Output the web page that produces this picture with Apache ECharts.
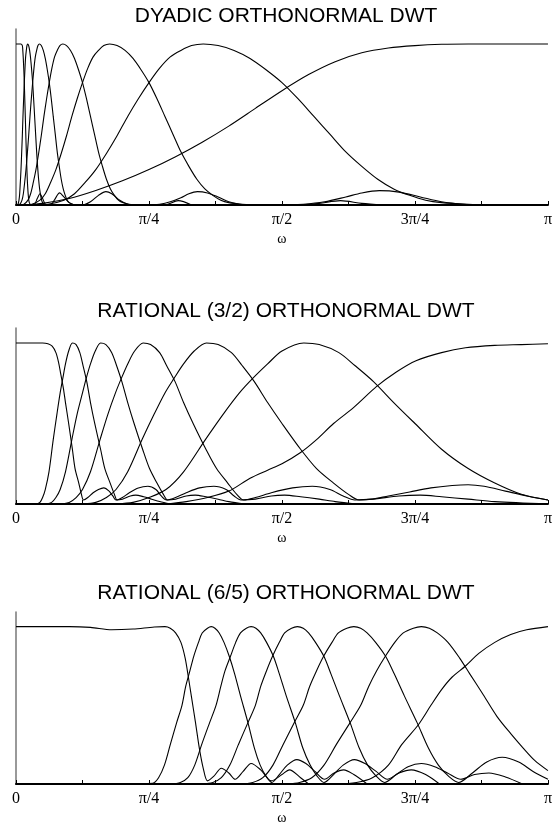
<!DOCTYPE html>
<html>
<head>
<meta charset="utf-8">
<script src="https://cdn.jsdelivr.net/npm/echarts@6/dist/echarts.min.js"></script>
<style>
  html, body { margin: 0; padding: 0; background: #fff; }
  #chart { width: 555px; height: 826px; }
</style>
</head>
<body>
<div id="chart"></div>
<script>
// frequency in units of pi, magnitude response
var tickLabels = ['0', '', 'π/4', '', 'π/2', '', '3π/4', '', 'π'];
var titles = ['DYADIC ORTHONORMAL DWT', 'RATIONAL (3/2) ORTHONORMAL DWT', 'RATIONAL (6/5) ORTHONORMAL DWT'];

// ---- dyadic ----
var dyLow = [[0,1],[.009,1],[.0119,.99],[.0128,.96],[.0137,.91],[.0147,.84],[.0156,.76],[.0165,.66],[.0175,.55],[.0184,.44],[.0194,.33],[.0203,.24],[.0212,.16],[.0222,.10],[.0231,.06],[.024,.03],[.025,.015],[.0265,.005],[.028,0],[.035,.005],[.04,.04],[.045,.07],[.05,.04],[.055,.005],[.06,0]];
var dyBand1 = [[.002,0],[.0038,.005],[.0056,.03],[.0069,.07],[.0081,.14],[.0094,.22],[.0106,.32],[.0119,.43],[.0131,.55],[.0144,.66],[.0156,.76],[.0169,.85],[.0181,.92],[.0194,.96],[.0206,.99],[.022,1],[.0238,.99],[.0256,.96],[.0275,.91],[.0294,.84],[.0313,.76],[.0331,.66],[.035,.55],[.0369,.44],[.0388,.33],[.0406,.24],[.0425,.16],[.0444,.10],[.0463,.06],[.0481,.03],[.05,.015],[.053,.005],[.056,0],[.065,0],[.072,.03],[.082,.075],[.09,.05],[.1,.015],[.11,0]];
var dyBand2 = [[.004,0],[.0075,.005],[.0113,.03],[.0138,.07],[.0163,.14],[.0188,.22],[.0213,.32],[.0238,.43],[.0263,.55],[.0288,.66],[.0313,.76],[.0338,.85],[.0363,.92],[.0388,.96],[.0413,.99],[.044,1],[.0475,.99],[.0513,.96],[.055,.91],[.0588,.84],[.0625,.76],[.0663,.66],[.07,.55],[.0738,.44],[.0775,.33],[.0813,.24],[.085,.16],[.0888,.10],[.0925,.06],[.0963,.03],[.1,.015],[.106,.005],[.1125,0],[.125,0],[.14,.02],[.155,.06],[.169,.083],[.18,.07],[.195,.03],[.21,.005],[.22,0],[.28,0],[.305,.027],[.33,0]];
var dyBand3 = [[.008,0],[.015,.005],[.0225,.03],[.0275,.07],[.0325,.14],[.0375,.22],[.0425,.32],[.0475,.43],[.0525,.55],[.0575,.66],[.0625,.76],[.0675,.85],[.0725,.92],[.0775,.96],[.0825,.99],[.088,1],[.095,.99],[.1025,.96],[.11,.91],[.1175,.84],[.125,.76],[.1325,.66],[.14,.55],[.1475,.44],[.155,.33],[.1625,.24],[.17,.16],[.1775,.10],[.185,.06],[.1925,.03],[.2,.015],[.2125,.005],[.225,0],[.25,0],[.27,.005],[.29,.02],[.31,.045],[.325,.07],[.341,.083],[.36,.075],[.38,.05],[.40,.02],[.42,.005],[.44,0],[.53,0],[.57,.01],[.61,.027],[.65,.01],[.69,0]];
var dyBand4 = [[.015,0],[.03,.005],[.045,.03],[.055,.07],[.065,.14],[.075,.22],[.085,.32],[.095,.43],[.105,.55],[.115,.66],[.125,.76],[.135,.85],[.145,.92],[.155,.96],[.165,.99],[.176,1],[.19,.99],[.205,.96],[.22,.91],[.235,.84],[.25,.76],[.265,.66],[.28,.55],[.295,.44],[.31,.33],[.325,.24],[.34,.16],[.355,.10],[.37,.06],[.385,.03],[.4,.015],[.425,.005],[.45,0],[.5,0],[.54,.005],[.58,.02],[.62,.05],[.65,.075],[.683,.089],[.72,.08],[.76,.05],[.8,.02],[.84,.005],[.88,0]];
var dyBand5 = [[.03,0],[.06,.005],[.09,.03],[.11,.07],[.13,.14],[.15,.22],[.17,.32],[.19,.43],[.21,.55],[.23,.66],[.25,.76],[.27,.85],[.29,.92],[.31,.96],[.33,.99],[.352,1],[.38,.99],[.41,.96],[.44,.91],[.47,.84],[.5,.76],[.53,.66],[.56,.55],[.59,.44],[.62,.33],[.65,.24],[.68,.16],[.71,.10],[.74,.06],[.77,.03],[.8,.015],[.85,.005],[.9,0]];
var dyHigh = [[.02,0],[.05,.01],[.1,.04],[.15,.09],[.2,.15],[.25,.22],[.3,.3],[.35,.39],[.4,.49],[.45,.6],[.5,.71],[.55,.81],[.6,.89],[.65,.945],[.7,.975],[.75,.99],[.8,.998],[.85,1],[1,1]];

// ---- rational 3/2 ----
var r32Low = [[0,1],[.05,1],[.06,.995],[.068,.98],[.075,.94],[.08,.88],[.084,.81],[.089,.72],[.093,.63],[.099,.5],[.106,.34],[.111,.22],[.118,.13],[.123,.06],[.127,.025],[.135,.04],[.145,.07],[.155,.09],[.165,.1],[.175,.08],[.182,.05],[.188,.025],[.2,.03],[.215,.05],[.225,.055],[.24,.045],[.255,.03],[.27,.015],[.29,0]];
var r32Band1 = [[.038,0],[.045,.01],[.05,.04],[.055,.09],[.062,.2],[.07,.4],[.077,.56],[.083,.69],[.088,.78],[.093,.87],[.099,.95],[.106,1],[.113,.99],[.12,.94],[.126,.86],[.133,.76],[.14,.63],[.148,.5],[.159,.34],[.167,.22],[.177,.13],[.185,.06],[.19,.025],[.2,.04],[.213,.07],[.23,.1],[.248,.11],[.263,.09],[.273,.05],[.283,.025],[.3,.03],[.32,.05],[.337,.055],[.357,.045],[.38,.03],[.4,.015],[.43,0]];
var r32Band2 = [[.057,0],[.067,.01],[.075,.04],[.083,.09],[.093,.2],[.105,.4],[.115,.56],[.125,.69],[.132,.78],[.14,.87],[.149,.95],[.159,1],[.169,.99],[.18,.94],[.189,.86],[.199,.76],[.21,.63],[.222,.5],[.238,.34],[.251,.22],[.265,.13],[.277,.06],[.285,.025],[.3,.04],[.32,.07],[.345,.1],[.372,.11],[.395,.09],[.41,.05],[.423,.025],[.45,.03],[.48,.05],[.505,.055],[.535,.045],[.57,.03],[.6,.015],[.64,0]];
var r32Band3 = [[.085,0],[.1,.01],[.113,.04],[.125,.09],[.14,.2],[.158,.4],[.173,.56],[.187,.69],[.198,.78],[.21,.87],[.223,.95],[.239,1],[.253,.99],[.27,.94],[.283,.86],[.299,.76],[.315,.63],[.333,.5],[.357,.34],[.377,.22],[.398,.13],[.415,.06],[.428,.025],[.45,.04],[.48,.07],[.52,.1],[.557,.11],[.59,.09],[.615,.05],[.637,.025],[.67,.03],[.72,.05],[.76,.055],[.8,.045],[.85,.03],[.9,.015],[1,0]];
var r32Band4 = [[.127,0],[.15,.01],[.17,.04],[.188,.09],[.21,.2],[.237,.4],[.26,.56],[.28,.69],[.297,.78],[.315,.87],[.335,.95],[.358,1],[.38,.99],[.405,.94],[.425,.86],[.448,.76],[.473,.63],[.5,.5],[.535,.34],[.565,.22],[.597,.13],[.625,.06],[.645,.025],[.67,.03],[.7,.05],[.74,.075],[.78,.1],[.82,.115],[.85,.12],[.88,.11],[.92,.08],[.96,.05],[1,.025]];
var r32Band5 = [[.19,0],[.22,.01],[.25,.04],[.282,.09],[.315,.2],[.356,.4],[.39,.56],[.42,.69],[.445,.78],[.473,.87],[.5,.95],[.541,1],[.57,.99],[.607,.94],[.637,.86],[.672,.76],[.71,.63],[.75,.5],[.8,.34],[.85,.22],[.9,.13],[.95,.06],[1,.025]];
var r32High = [[.283,0],[.32,.015],[.36,.04],[.4,.08],[.44,.16],[.473,.21],[.5,.25],[.535,.32],[.565,.4],[.597,.5],[.635,.6],[.678,.73],[.715,.82],[.752,.89],[.8,.94],[.845,.97],[.9,.985],[.95,.99],[1,.995]];

// ---- rational 6/5 ----
var r65Low = [[0,1],[.1,1],[.14,.995],[.18,.98],[.22,.985],[.26,.998],[.28,1],[.29,.99],[.3,.96],[.31,.9],[.318,.8],[.324,.68],[.33,.55],[.337,.4],[.345,.22],[.352,.1],[.36,.02],[.372,.05],[.386,.1],[.4,.07],[.412,.03],[.427,.08],[.442,.13],[.46,.09],[.48,.02],[.5,.06],[.514,.09],[.535,.04],[.55,0]];
var r65Band1 = [[.2,0],[.257,.005],[.268,.04],[.279,.12],[.29,.25],[.302,.39],[.312,.5],[.319,.62],[.327,.72],[.334,.81],[.343,.9],[.35,.96],[.36,.99],[.367,1],[.374,.99],[.382,.96],[.391,.9],[.401,.81],[.411,.7],[.422,.56],[.436,.39],[.448,.23],[.459,.12],[.47,.05],[.481,.01],[.495,.06],[.51,.12],[.528,.155],[.545,.13],[.562,.08],[.58,.03],[.598,.07],[.616,.09],[.635,.06],[.66,0]];
var r65Band2 = [[.29,0],[.309,.01],[.323,.04],[.336,.12],[.349,.25],[.364,.39],[.376,.5],[.385,.62],[.393,.72],[.403,.81],[.413,.9],[.422,.96],[.433,.99],[.442,1],[.451,.99],[.46,.96],[.471,.9],[.484,.81],[.495,.7],[.508,.56],[.525,.39],[.539,.23],[.553,.12],[.566,.05],[.579,.01],[.597,.06],[.615,.12],[.636,.155],[.656,.13],[.677,.08],[.698,.03],[.72,.07],[.743,.09],[.77,.06],[.796,0]];
var r65Band3 = [[.35,0],[.37,.01],[.386,.04],[.402,.12],[.418,.25],[.436,.39],[.45,.5],[.46,.62],[.471,.72],[.482,.81],[.495,.9],[.505,.96],[.518,.99],[.529,1],[.54,.99],[.55,.96],[.563,.9],[.579,.81],[.592,.7],[.608,.56],[.628,.39],[.645,.23],[.661,.12],[.677,.05],[.693,.01],[.715,.06],[.737,.11],[.762,.13],[.787,.11],[.811,.07],[.836,.03],[.862,.06],[.889,.07],[.92,.045],[.952,0]];
var r65Band4 = [[.42,0],[.445,.01],[.464,.04],[.483,.12],[.502,.25],[.523,.39],[.54,.5],[.552,.62],[.565,.72],[.578,.81],[.594,.9],[.606,.96],[.622,.99],[.635,1],[.648,.99],[.66,.96],[.676,.9],[.695,.81],[.711,.7],[.73,.56],[.754,.39],[.775,.23],[.794,.12],[.813,.05],[.832,.01],[.858,.07],[.885,.14],[.914,.17],[.945,.14],[.972,.08],[1,.03]];
var r65Band5 = [[.51,0],[.533,.01],[.556,.04],[.579,.12],[.602,.25],[.628,.39],[.648,.5],[.663,.62],[.678,.72],[.694,.81],[.712,.9],[.728,.96],[.747,.99],[.762,1],[.777,.99],[.792,.96],[.812,.9],[.834,.8],[.853,.7],[.876,.58],[.904,.43],[.93,.32],[.953,.23],[.975,.15],[1,.085]];
var r65High = [[.6,0],[.64,.01],[.67,.04],[.7,.12],[.725,.25],[.756,.375],[.78,.5],[.8,.6],[.82,.68],[.845,.75],[.87,.83],[.9,.9],[.93,.95],[.96,.98],[1,1]];

var panels = [
    [dyLow, dyBand1, dyBand2, dyBand3, dyBand4, dyBand5, dyHigh],
    [r32Low, r32Band1, r32Band2, r32Band3, r32Band4, r32Band5, r32High],
    [r65Low, r65Band1, r65Band2, r65Band3, r65Band4, r65Band5, r65High]
];

var gridTops = [29, 328, 612];
var titleTops = [6, 301, 583];

var chart = echarts.init(document.getElementById('chart'));

var grids = [], xAxes = [], yAxes = [], series = [], titleList = [];
gridTops.forEach(function (top, i) {
    grids.push({left: 16, right: 2, top: top, height: 176});
    titleList.push({
        text: titles[i],
        left: 286,
        top: titleTops[i],
        textAlign: 'center',
        padding: 0,
        textStyle: {fontFamily: 'Liberation Sans, Arial, sans-serif', fontSize: 21, fontWeight: 'normal', color: '#000'}
    });
    xAxes.push({
        type: 'value', gridIndex: i, min: 0, max: 1, interval: 0.125,
        name: 'ω', nameLocation: 'middle', nameGap: 27,
        nameTextStyle: {fontFamily: 'Liberation Serif, Times New Roman, serif', fontSize: 14, color: '#000'},
        axisLine: {lineStyle: {color: '#000', width: 2}},
        axisTick: {inside: true, length: 4, lineStyle: {color: '#000', width: 1}},
        axisLabel: {
            margin: 7,
            fontFamily: 'Liberation Serif, Times New Roman, serif', fontSize: 16, color: '#000',
            formatter: function (v) { return tickLabels[Math.round(v * 8)]; }
        },
        splitLine: {show: false}
    });
    yAxes.push({
        type: 'value', gridIndex: i, min: 0, max: 1.093, interval: 1.093,
        axisLine: {show: true, lineStyle: {color: '#777', width: 1.5}},
        axisTick: {show: false},
        axisLabel: {show: false},
        splitLine: {show: false}
    });
    panels[i].forEach(function (curve) {
        series.push({
            type: 'line', xAxisIndex: i, yAxisIndex: i,
            data: curve, symbol: 'none', smooth: 0.3,
            lineStyle: {color: '#000', width: 1.1},
            silent: true, animation: false
        });
    });
});

var option = {
    backgroundColor: '#fff',
    animation: false,
    title: titleList,
    grid: grids,
    xAxis: xAxes,
    yAxis: yAxes,
    series: series
};
chart.setOption(option);
</script>
</body>
</html>
